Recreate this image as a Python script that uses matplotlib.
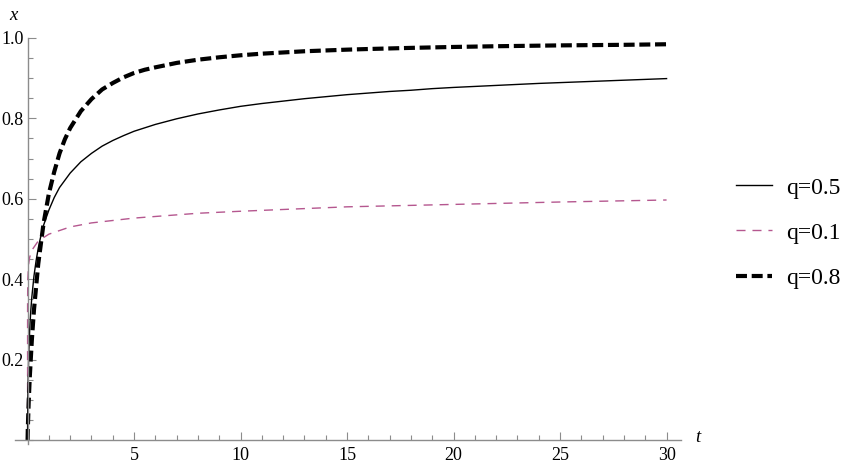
import matplotlib
matplotlib.use("Agg")
import matplotlib.pyplot as plt
from matplotlib.ticker import MultipleLocator, FixedLocator

plt.rcParams['font.family'] = ['Liberation Serif', 'DejaVu Serif']
plt.rcParams['lines.scale_dashes'] = False

# ---- data ----
t_q05 = [0, 0.001, 0.01, 0.05, 0.1, 0.15, 0.2, 0.3, 0.4, 0.5, 0.6, 0.75, 1, 1.25, 1.5, 1.75, 2, 2.5, 3, 3.5,
         4, 4.5, 5, 6, 7, 8, 9, 10, 11, 12, 13, 14, 15, 16, 17, 18, 19, 20, 22, 24, 26, 28, 30]
x_q05 = [0, 0.035, 0.104, 0.209, 0.276, 0.322, 0.356, 0.408, 0.446, 0.477, 0.502, 0.534, 0.572, 0.603, 0.628,
         0.646, 0.664, 0.692, 0.713, 0.731, 0.745, 0.757, 0.768, 0.785, 0.799, 0.811, 0.821, 0.830, 0.837,
         0.843, 0.849, 0.854, 0.859, 0.863, 0.867, 0.870, 0.874, 0.877, 0.882, 0.887, 0.891, 0.895, 0.899]

t_q01 = [0, 1e-6, 1e-4, 0.001, 0.01, 0.05, 0.1, 0.2, 0.5, 1, 2, 3, 5, 8, 10, 15, 20, 25, 30]
x_q01 = [0, 0.209, 0.295, 0.345, 0.399, 0.438, 0.455, 0.472, 0.495, 0.512, 0.530, 0.540, 0.552, 0.564,
         0.569, 0.580, 0.586, 0.592, 0.597]

t_q08 = [0, 0.01, 0.05, 0.1, 0.2, 0.3, 0.5, 0.75, 1, 1.25, 1.5, 1.75, 2, 2.5, 3, 3.5, 4, 4.5, 5, 5.5, 6, 7, 8,
         9, 10, 11, 12, 13, 14, 15, 16, 17, 18, 20, 22, 25, 28, 30]
x_q08 = [0, 0.027, 0.092, 0.154, 0.249, 0.324, 0.438, 0.539, 0.613, 0.667, 0.713, 0.748, 0.776, 0.818, 0.848,
         0.872, 0.888, 0.902, 0.913, 0.921, 0.927, 0.938, 0.946, 0.952, 0.957, 0.961, 0.964, 0.967, 0.969,
         0.971, 0.9726, 0.974, 0.9754, 0.9777, 0.9795, 0.9816, 0.983, 0.9844]

labels = ["q=0.5", "q=0.1", "q=0.8"]
x_major = [5, 10, 15, 20, 25, 30]
y_major = [0.2, 0.4, 0.6, 0.8, 1.0]

fig = plt.figure(figsize=(8.61, 4.69), dpi=100)
ax = fig.add_axes([0.0172, 0.0533, 0.7743, 0.8657])

l1, = ax.plot(t_q05, x_q05, color='black', lw=1.0, label=labels[0])
l2, = ax.plot(t_q01, x_q01, color='#b5578f', lw=1.0, dashes=(6.5, 5), label=labels[1])
l3, = ax.plot(t_q08, x_q08, color='black', lw=3.0, dashes=(7.9, 3.4), label=labels[2])

ax.set_xlim(-0.6, 30.7)
ax.set_ylim(-0.01, 1.0)

for s in ['top', 'right']:
    ax.spines[s].set_visible(False)
ax.spines['left'].set_position(('data', 0))
ax.spines['bottom'].set_position(('data', 0))
for s in ['left', 'bottom']:
    ax.spines[s].set_color('#8c8c8c')
    ax.spines[s].set_linewidth(1.0)

ax.xaxis.set_major_locator(FixedLocator(x_major))
ax.xaxis.set_minor_locator(MultipleLocator(1))
ax.yaxis.set_major_locator(FixedLocator(y_major))
ax.yaxis.set_minor_locator(MultipleLocator(0.05))
ax.set_xticklabels([str(v) for v in x_major])
ax.set_yticklabels([f"{v:.1f}" for v in y_major])

ax.tick_params(which='both', direction='in', color='#8c8c8c', width=0.8, labelsize=13)
ax.tick_params(which='major', length=5.8)
ax.tick_params(which='minor', length=3.4)
ax.tick_params(axis='x', which='major', pad=5)
ax.tick_params(axis='y', which='major', pad=3)

fig.text(13 / 861, 1 - 16 / 469, 'x', style='italic', fontsize=13.5, ha='center', va='center')
fig.text(698 / 861, 1 - 437 / 469, 't', style='italic', fontsize=13.5, ha='center', va='center')

leg = fig.legend(handles=[l1, l2, l3], loc='center left', bbox_to_anchor=(715 / 861, 1 - 233 / 469),
                 frameon=False, fontsize=17, handlelength=1.5, handletextpad=0.6, labelspacing=1.0)

fig.savefig('out.png', dpi=100)
